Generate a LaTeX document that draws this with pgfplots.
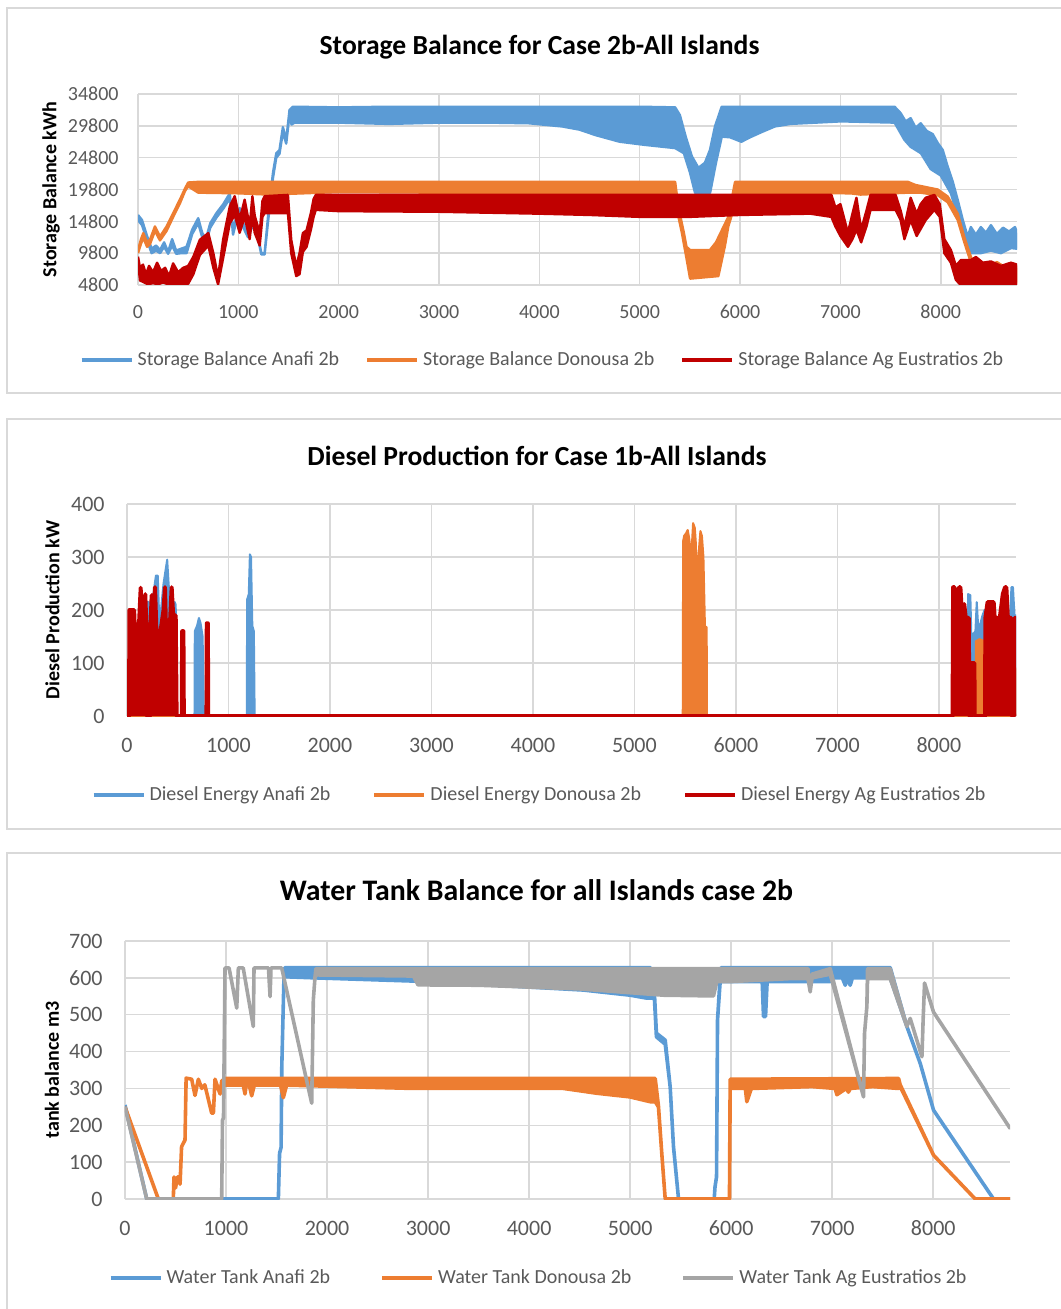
\documentclass[border=0pt]{standalone}
\usepackage{fontspec}
\setmainfont{Carlito}
\usepackage{pgfplots}
\pgfplotsset{compat=1.18}
\definecolor{cBlue}{HTML}{5B9BD5}
\definecolor{cOrange}{HTML}{ED7D31}
\definecolor{cRed}{HTML}{C00000}
\definecolor{cGray}{HTML}{A5A5A5}
\definecolor{cGrid}{HTML}{D9D9D9}
\definecolor{cText}{HTML}{595959}
\pgfplotsset{
 base/.style={
  scale only axis,
  anchor=south west,
  xmin=0, xmax=8760,
  xtick={0,1000,...,8000},
  scaled ticks=false,
  grid=major,
  major grid style={cGrid, line width=0.75pt},
  axis line style={draw=none},
  major tick length=0pt,
  tick label style={text=cText, inner sep=0pt},
  /pgf/number format/assume math mode=true,
  /pgf/number format/1000 sep={},
  legend columns=3,
  legend cell align=left,
  legend image code/.code={\draw[##1, line width=2pt] (0pt,0pt) -- (25pt,0pt);},
  legend style={draw=none, fill=none, font=\fontsize{10}{12}\selectfont, text=cText, anchor=center},
  title style={anchor=center},
  ylabel style={font=\bfseries\fontsize{10}{12}\selectfont, anchor=center},
 },
}
\begin{document}
\begin{tikzpicture}
\path[use as bounding box] (0,0) rectangle (530pt,-654.5pt);
\draw[cGrid, line width=0.75pt] (3.5pt,-4pt) rectangle (540pt,-196.5pt);
\draw[cGrid, line width=0.75pt] (3.5pt,-209.5pt) rectangle (540pt,-414.5pt);
\draw[cGrid, line width=0.75pt] (3.5pt,-426.5pt) rectangle (540pt,-660pt);

% ---------------- Panel 1 ----------------
\begin{axis}[base, at={(69pt,-142.5pt)}, width=439.5pt, height=95.5pt,
  ymin=4800, ymax=34800, ytick={4800,9800,14800,19800,24800,29800,34800},
  tick label style={font=\fontsize{10}{12}\selectfont},
  yticklabel style={anchor=east, xshift=-9.5pt},
  xticklabel style={anchor=center, yshift=-13.3pt},
  title={Storage Balance for Case 2b-All Islands},
  title style={font=\bfseries\fontsize{13.8}{16}\selectfont, at={(axis description cs:0.4568,1)}, yshift=17.5pt},
  ylabel={Storage Balance kWh},
  ylabel style={at={(axis description cs:-0.099,0.5)}},
  legend style={at={(axis description cs:0.4613,-0.3927)}, /tikz/every even column/.append style={column sep=11pt}},
]
\addlegendimage{cBlue}\addlegendentry{Storage Balance Anafi 2b}
\addlegendimage{cOrange}\addlegendentry{Storage Balance Donousa 2b}
\addlegendimage{cRed}\addlegendentry{Storage Balance Ag Eustratios 2b}
% Anafi
\addplot[forget plot, draw=cBlue, fill=cBlue, line width=1.2pt, line join=round] coordinates {
(0,15800)(40,15000)(90,12500)(136,10500)(180,11000)(220,10300)(260,11500)(300,10000)(340,12000)(380,10200)(430,10500)(484,10800)(540,13500)(600,15300)(640,13000)(676,12000)(720,14500)(782,16100)(850,17500)(915,19200)(947,13400)(980,15500)(1013,16900)(1050,14500)(1096,12950)(1140,14800)(1179,14000)(1229,9800)(1262,9800)(1295,15400)(1345,22400)(1378,25500)(1410,26000)(1444,29600)(1477,27600)(1510,32300)(1544,32800)(2000,32700)(2500,32800)(3000,32800)(3500,32800)(4000,32800)(4500,32800)(5000,32800)(5353,32700)(5400,31500)(5460,28000)(5520,25000)(5585,23200)(5650,24000)(5700,26000)(5750,29700)(5817,32800)(6000,32800)(6500,32800)(7000,32800)(7540,32800)(7600,31800)(7650,30500)(7700,31000)(7750,29500)(7800,30200)(7860,29000)(7920,28500)(7970,27100)(8020,26000)(8069,23400)(8120,21000)(8169,18150)(8220,15000)(8268,12400)(8300,13900)(8350,12700)(8400,13900)(8450,13000)(8500,14200)(8560,12800)(8620,13800)(8680,13200)(8740,13900)(8760,13000)
(8760,10500)(8700,10600)(8600,9800)(8500,10200)(8400,9800)(8284,9800)(8201,13950)(8101,19200)(8000,22000)(7900,23000)(7802,25500)(7700,26500)(7638,27600)(7540,30300)(7008,30500)(6500,30100)(6347,29700)(6212,28800)(6100,28000)(6013,27300)(5900,28000)(5818,28100)(5760,24000)(5701,19250)(5552,19250)(5500,22500)(5440,25500)(5353,26300)(5055,26800)(4800,27300)(4558,28350)(4400,29200)(4227,29700)(3895,30200)(3500,30300)(3000,30300)(2500,30100)(2000,30300)(1560,30300)(1530,30000)(1510,31500)(1477,27000)(1444,28800)(1410,25400)(1378,24800)(1345,21600)(1295,14600)(1262,9600)(1229,9600)(1179,13300)(1140,14000)(1096,12300)(1050,13800)(1013,16100)(980,14800)(947,12700)(915,18400)(850,16800)(782,15400)(720,13800)(676,11300)(640,12300)(600,14500)(540,12800)(484,9800)(430,9800)(380,9700)(340,11000)(300,9700)(260,10800)(220,9800)(180,10200)(136,9800)(90,11800)(40,14200)(0,15000)
};
% Donousa
\addplot[forget plot, draw=cOrange, fill=cOrange, line width=1.2pt, line join=round] coordinates {
(0,10300)(30,12000)(53,12950)(90,11500)(119,11900)(169,14000)(219,12400)(285,14000)(351,16100)(417,18200)(470,20000)(500,20900)(600,21000)(1000,21000)(2000,21000)(3000,21000)(4000,21000)(5000,21000)(5353,21000)(5386,17000)(5440,13000)(5466,10800)(5502,10300)(5560,10300)(5700,10300)(5760,11500)(5800,12800)(5883,15500)(5950,21000)(7672,21000)(7750,20500)(7970,19800)(8069,18700)(8169,16000)(8235,12300)(8301,9200)(8334,8000)(8400,8300)(8480,7800)(8560,8400)(8640,7600)(8700,8300)(8760,7500)
(8760,5200)(8640,5000)(8500,5600)(8400,5200)(8334,6000)(8301,8300)(8235,11500)(8169,15000)(8069,17800)(7970,18900)(7800,19300)(7672,19300)(7200,19000)(7100,19200)(6000,19250)(5950,19000)(5933,16600)(5883,14000)(5850,11000)(5784,6200)(5502,5800)(5466,9000)(5420,13000)(5386,15500)(5353,19000)(5200,19250)(4300,19250)(3000,19300)(2000,19400)(1300,19000)(1000,19200)(600,19300)(500,20300)(470,19600)(417,17600)(351,15500)(285,13300)(219,11800)(169,13300)(119,11200)(90,10800)(53,12200)(30,11300)(0,9800)
};
% Ag Eustratios
\addplot[forget plot, draw=cRed, fill=cRed, line width=1.2pt, line join=round] coordinates {
(0,9250)(20,7500)(50,8000)(80,6500)(110,7800)(150,6800)(190,8300)(230,7000)(270,7500)(310,6200)(350,8200)(400,6800)(450,7500)(500,7800)(552,9250)(616,11900)(701,12950)(751,9800)(798,6000)(848,11900)(915,17150)(964,18750)(1013,15100)(1063,18200)(1113,14000)(1140,18750)(1163,15700)(1213,12950)(1240,18000)(1262,18750)(1494,18950)(1527,11900)(1577,7700)(1610,9800)(1643,12950)(1680,13400)(1723,16100)(1750,18300)(1772,18950)(6910,18950)(6950,17000)(7000,17500)(7075,13000)(7120,16000)(7160,18500)(7207,13500)(7260,16500)(7300,18950)(7550,18950)(7600,16500)(7638,14000)(7700,18500)(7760,16000)(7800,17500)(7850,18500)(7936,18950)(7990,17500)(8036,12000)(8101,10300)(8151,7800)(8200,8700)(8300,8700)(8350,9200)(8420,8300)(8500,8500)(8600,7800)(8700,8300)(8760,8000)
(8760,4800)(8600,5000)(8400,4800)(8200,4800)(8151,5600)(8101,8300)(8036,9800)(7990,15500)(7936,16600)(7850,15000)(7760,12500)(7700,15000)(7638,12000)(7600,15000)(7550,16600)(7300,16600)(7260,14000)(7207,11500)(7160,13500)(7120,12000)(7075,10800)(7000,12500)(6950,14000)(6910,15500)(6700,16000)(6000,15800)(5500,15500)(5000,15500)(4500,15800)(4000,16000)(3000,16300)(2000,16400)(1772,16600)(1750,15500)(1723,13500)(1680,10800)(1643,10000)(1610,6500)(1577,6200)(1527,9800)(1494,16100)(1262,16100)(1240,15500)(1213,11000)(1163,13000)(1140,15800)(1113,12000)(1063,15500)(1013,13000)(964,15800)(915,14500)(848,9000)(798,4900)(751,7500)(701,11000)(616,9500)(552,6500)(500,5000)(450,4900)(400,5000)(350,5000)(300,4900)(250,5200)(200,4900)(150,5100)(100,4900)(50,5300)(20,5500)(0,8500)
};
\end{axis}

% ---------------- Panel 2 ----------------
\begin{axis}[base, at={(63.5pt,-358pt)}, width=444.5pt, height=106pt,
  ymin=0, ymax=400, ytick={0,100,200,300,400},
  tick label style={font=\fontsize{11}{13}\selectfont},
  yticklabel style={anchor=east, xshift=-11pt},
  xticklabel style={anchor=center, yshift=-14.5pt},
  title={Diesel Production for Case 1b-All Islands},
  title style={font=\bfseries\fontsize{13.8}{16}\selectfont, at={(axis description cs:0.4612,1)}, yshift=18pt},
  ylabel={Diesel Production kW},
  ylabel style={at={(axis description cs:-0.0838,0.5)}},
  legend style={at={(axis description cs:0.4651,-0.3726)}, /tikz/every even column/.append style={column sep=19pt}},
]
\addlegendimage{cBlue}\addlegendentry{Diesel Energy Anafi 2b}
\addlegendimage{cOrange}\addlegendentry{Diesel Energy Donousa 2b}
\addlegendimage{cRed}\addlegendentry{Diesel Energy Ag Eustratios 2b}
\addplot[forget plot, draw=cBlue, fill=cBlue, line width=1pt, line join=round] coordinates {
(0,0)(170,0)(172,150)(180,215)(217,215)(230,170)(260,230)(285,265)(303,265)(320,170)(360,250)(396,295)(410,250)(430,200)(470,215)(480,210)(490,0)(665,0)(668,160)(690,170)(709,185)(725,175)(745,150)(758,0)(1180,0)(1184,220)(1200,230)(1211,305)(1222,300)(1235,170)(1250,160)(1258,0)(8280,0)(8288,230)(8310,228)(8320,150)(8360,160)(8373,215)(8390,160)(8430,190)(8450,200)(8470,200)(8500,170)(8600,170)(8700,180)(8715,243)(8730,243)(8745,190)(8760,190)(8760,0)
};
\addplot[forget plot, draw=cOrange, fill=cOrange, line width=1pt, line join=round] coordinates {
(0,0)(5476,0)(5480,330)(5490,340)(5510,345)(5525,351)(5540,335)(5560,300)(5578,364)(5595,355)(5605,327)(5617,230)(5630,300)(5650,349)(5665,340)(5680,300)(5695,168)(5712,168)(5715,0)(8360,0)(8365,141)(8400,145)(8450,141)(8455,0)(8745,0)(8750,90)(8760,90)(8760,0)
};
\addplot[forget plot, draw=cRed, fill=cRed, line width=2pt, line join=round] coordinates {
(0,0)(20,0)(24,200)(70,200)(78,160)(110,160)(120,180)(135,242)(145,160)(170,160)(180,230)(190,175)(196,0)(226,0)(230,160)(243,228)(255,160)(276,243)(290,160)(330,160)(360,200)(374,243)(385,160)(420,160)(440,243)(455,190)(480,190)(489,0)(540,0)(543,160)(556,160)(560,0)(783,0)(786,175)(797,175)(800,0)(8135,0)(8140,243)(8155,243)(8165,200)(8200,243)(8212,243)(8225,200)(8250,211)(8265,185)(8295,185)(8300,0)(8318,0)(8320,100)(8350,100)(8353,0)(8455,0)(8458,185)(8480,215)(8540,215)(8550,185)(8600,185)(8630,230)(8652,243)(8665,243)(8680,185)(8715,185)(8720,0)(8740,0)(8745,185)(8755,185)(8760,0)
};
\end{axis}

% ---------------- Panel 3 ----------------
\begin{axis}[base, at={(62.5pt,-599.5pt)}, width=442.5pt, height=129pt,
  ymin=0, ymax=700, ytick={0,100,200,300,400,500,600,700},
  tick label style={font=\fontsize{11}{13}\selectfont},
  yticklabel style={anchor=east, xshift=-11pt},
  xticklabel style={anchor=center, yshift=-14.5pt},
  title={Water Tank Balance for all Islands case 2b},
  title style={font=\bfseries\fontsize{14.9}{17}\selectfont, at={(axis description cs:0.465,1)}, yshift=19.5pt},
  ylabel={tank balance m3},
  ylabel style={at={(axis description cs:-0.0825,0.5)}},
  legend style={at={(axis description cs:0.4684,-0.3062)}, /tikz/every even column/.append style={column sep=23pt}},
]
\addlegendimage{cBlue}\addlegendentry{Water Tank Anafi 2b}
\addlegendimage{cOrange}\addlegendentry{Water Tank Donousa 2b}
\addlegendimage{cGray}\addlegendentry{Water Tank Ag Eustratios 2b}
\addplot[forget plot, draw=cBlue, fill=cBlue, line width=1.8pt, line join=round] coordinates {
(0,255)(215,0)(1518,0)(1530,124)(1545,140)(1552,359)(1575,620)(1584,628)(5200,628)(5240,560)(5260,450)(5347,431)(5396,305)(5429,142)(5479,0)(5832,0)(5840,33)(5855,60)(5865,486)(5891,603)(5900,628)(7574,628)(7739,468)(7871,368)(8003,241)(8597,0)(8760,0)
(8760,0)(8597,0)(8003,241)(7871,368)(7739,468)(7574,600)(7200,600)(7178,580)(7150,600)(7129,580)(7100,600)(7000,600)(6980,590)(6356,590)(6340,495)(6320,495)(6307,590)(5891,590)(5865,486)(5855,60)(5840,33)(5832,0)(5479,0)(5429,142)(5396,305)(5347,420)(5260,440)(5240,545)(5165,545)(5000,553)(4535,567)(3000,590)(1881,600)(1584,603)(1575,620)(1552,359)(1545,140)(1530,124)(1518,0)(215,0)(0,255)
};
\addplot[forget plot, draw=cOrange, fill=cOrange, line width=1.8pt, line join=round] coordinates {
(0,250)(330,0)(478,0)(485,60)(500,30)(520,60)(535,60)(545,40)(560,142)(594,160)(605,328)(660,325)(693,281)(726,325)(760,300)(790,310)(858,233)(875,233)(891,325)(941,285)(957,320)(990,327)(1567,327)(2855,327)(5248,327)(5280,253)(5313,124)(5347,0)(5983,0)(5990,325)(7657,327)(7673,310)(8003,119)(8416,0)(8760,0)
(8760,0)(8416,0)(8003,119)(7673,305)(7657,300)(7400,305)(7180,300)(7160,290)(7140,300)(7046,283)(7030,300)(6800,305)(6200,300)(6155,264)(6140,300)(5990,300)(5983,0)(5347,0)(5313,124)(5280,250)(5248,264)(5198,264)(5000,277)(4670,287)(4340,300)(2855,300)(1600,309)(1567,275)(1540,309)(1280,309)(1254,280)(1230,309)(1200,309)(1188,285)(1170,309)(990,309)(957,320)(941,285)(891,325)(875,233)(858,233)(790,310)(760,300)(726,325)(693,281)(660,325)(605,328)(594,160)(560,142)(545,40)(535,60)(520,60)(500,30)(485,60)(478,0)(330,0)(0,250)
};
\addplot[forget plot, draw=cGray, fill=cGray, line width=1.8pt, line join=round] coordinates {
(0,250)(215,0)(957,0)(965,214)(975,220)(990,627)(1030,627)(1106,518)(1122,627)(1170,627)(1270,468)(1277,627)(1420,627)(1436,549)(1445,627)(1551,627)(1848,260)(1864,540)(1881,603)(1890,625)(6700,625)(6760,625)(6782,562)(6800,610)(6980,625)(7310,277)(7320,450)(7343,522)(7350,625)(7574,625)(7739,468)(7772,490)(7888,386)(7900,486)(7914,586)(8003,507)(8760,192)
(8760,192)(8003,507)(7914,586)(7900,486)(7888,386)(7772,490)(7739,468)(7574,598)(7350,598)(7343,522)(7320,450)(7310,277)(6980,610)(6800,600)(6782,562)(6760,598)(6584,598)(6000,590)(5858,590)(5825,551)(5330,553)(4500,570)(3500,580)(2900,581)(2855,605)(1900,608)(1881,603)(1864,540)(1848,260)(1551,627)(1445,627)(1436,549)(1420,627)(1277,627)(1270,468)(1170,627)(1122,627)(1106,518)(1030,627)(990,627)(975,220)(965,214)(957,0)(215,0)(0,250)
};
\end{axis}
\end{tikzpicture}
\end{document}
